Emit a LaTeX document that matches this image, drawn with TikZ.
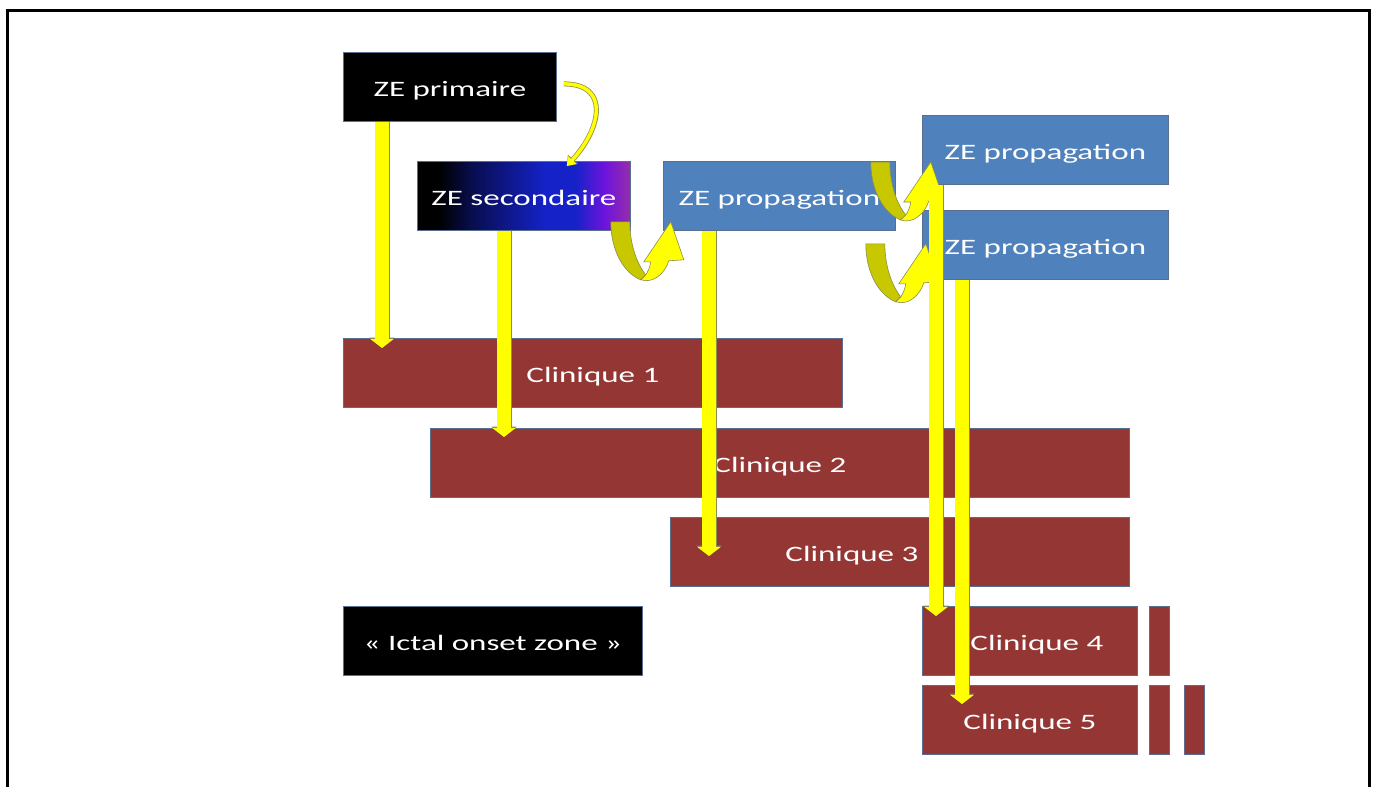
\documentclass[tikz,border=0pt]{standalone}
\usepackage{fontspec}
\usepackage{tikz}
\usetikzlibrary{positioning,arrows.meta}
\newfontfamily\slidefont[FakeStretch=1.5]{Carlito}

\definecolor{zeblue}{HTML}{4F81BD}
\definecolor{clinred}{HTML}{943634}
\definecolor{edgeblue}{HTML}{5A6F8F}
\definecolor{arrowyellow}{HTML}{FFFF00}
\definecolor{arrowdark}{HTML}{C8C800}
\definecolor{arrowedge}{HTML}{8C8C50}
\definecolor{secblue}{RGB}{21,34,200}
\definecolor{secviolet}{RGB}{110,20,220}
\definecolor{secmag}{RGB}{150,45,170}
\pgfdeclarehorizontalshading{secgrad}{100bp}{color(0bp)=(black); color(30bp)=(black); color(38bp)=(black!60!secblue); color(55bp)=(secblue); color(62bp)=(secblue); color(69bp)=(secviolet); color(75bp)=(secmag); color(100bp)=(secmag)}

\tikzset{
  slidebox/.style={draw=edgeblue, line width=0.8pt, anchor=north west, inner sep=0pt,
    minimum height=69, text=white, text height=22pt, text depth=3pt,
    font=\slidefont\fontsize{22}{26}\selectfont},
  blackbox/.style={slidebox, fill=black},
  secbox/.style={slidebox, shading=secgrad},
  bluebox/.style={slidebox, fill=zeblue},
  redbox/.style={slidebox, fill=clinred},
  lbl/.style={text=white, text height=22pt, text depth=3pt, inner sep=0pt,
    font=\slidefont\fontsize{22}{26}\selectfont},
  yback/.style={draw=arrowedge, line width=15pt, -{Triangle[width=25pt,length=10.5pt]}},
  yfront/.style={draw=arrowyellow, line width=13.5pt, -{Triangle[width=23pt,length=9pt]}},
  thinback/.style={draw=arrowedge, line width=5pt, -{Triangle[width=13pt,length=9pt]}},
  thinfront/.style={draw=arrowyellow, line width=3.5pt, -{Triangle[width=11pt,length=8pt]}},
  uturn/.pic={
    \filldraw[fill=arrowdark, draw=arrowedge, line width=0.6pt] (0,0) -- (19,0)
      .. controls (19,22) and (26,42) .. (35,53) -- (30,58)
      .. controls (14,52) and (0,30) .. (0,0) -- cycle;
    \filldraw[fill=arrowyellow, draw=arrowedge, line width=0.6pt] (30,58)
      .. controls (42,62) and (54,52) .. (58,39) -- (73,38) -- (60,0) -- (33,40) -- (40,40)
      .. controls (39,46) and (37,50) .. (35,53) -- cycle;
  }
}
\newcommand{\yarrow}[2]{\draw[yback] #1 -- #2; \draw[yfront] #1 -- #2;}

\begin{document}
\begin{tikzpicture}[x=1pt,y=-1pt]
\useasboundingbox (0,0) rectangle (1377,787);
% frame
\draw[line width=3pt] (7,787) -- (7,10) -- (1369,10) -- (1369,787);

% zones
\node[blackbox, minimum width=213] (prim) at (343,52) {ZE primaire};
\node[secbox, minimum width=213] (sec) at (417,161) {ZE secondaire};
\node[bluebox, minimum width=232] (prop) at (663,161) {ZE propagation};
\node[bluebox, minimum width=246] (propa) at (922,115) {ZE propagation};
\node[bluebox, minimum width=246] (propb) at (922,210) {ZE propagation};

% clinique
\node[redbox, minimum width=499] (clina) at (343,338) {Clinique 1};
\node[redbox, minimum width=699] (clinb) at (430,428) {Clinique 2};
\node[redbox, minimum width=459, label={[lbl,xshift=-48]center:Clinique 3}] (clinc) at (670,517) {};
\node[blackbox, minimum width=299] (ictal) at (343,606) {« Ictal onset zone »};
\node[redbox, minimum width=215, label={[lbl,xshift=7]center:Clinique 4}] (clind) at (922,606) {};
\node[redbox, minimum width=20, right=11pt of clind] (clindx) {};
\node[redbox, minimum width=215] (cline) at (922,685) {Clinique 5};
\node[redbox, minimum width=20, right=11pt of cline] (clinex) {};
\node[redbox, minimum width=20, right=14pt of clinex] (clinexx) {};

% curved arrows
\draw[thinback] ([shift={(7,-3)}]prim.east) .. controls ([shift={(54,-3)}]prim.east) and ([shift={(-30,-32)}]sec.north east) .. ([shift={(-64,5)}]sec.north east);
\draw[thinfront] ([shift={(7,-3)}]prim.east) .. controls ([shift={(54,-3)}]prim.east) and ([shift={(-30,-32)}]sec.north east) .. ([shift={(-64,5)}]sec.north east);
\pic at ([shift={(-20,-9)}]sec.south east) {uturn};
\pic at ([shift={(-25,1)}]prop.north east) {uturn};
\pic at ([shift={(-30,13)}]prop.south east) {uturn};

% straight arrows
\yarrow{([shift={(39,0)}]prim.south west)}{([shift={(39,10)}]clina.north west)}
\yarrow{([shift={(87,0)}]sec.south west)}{([shift={(74,9)}]clinb.north west)}
\yarrow{([shift={(46,0)}]prop.south west)}{([shift={(39,39)}]clinc.north west)}
\yarrow{([shift={(14,0)}]propa.south west)}{([shift={(14,10)}]clind.north west)}
\yarrow{([shift={(40,0)}]propb.south west)}{([shift={(40,19)}]cline.north west)}
\end{tikzpicture}
\end{document}
